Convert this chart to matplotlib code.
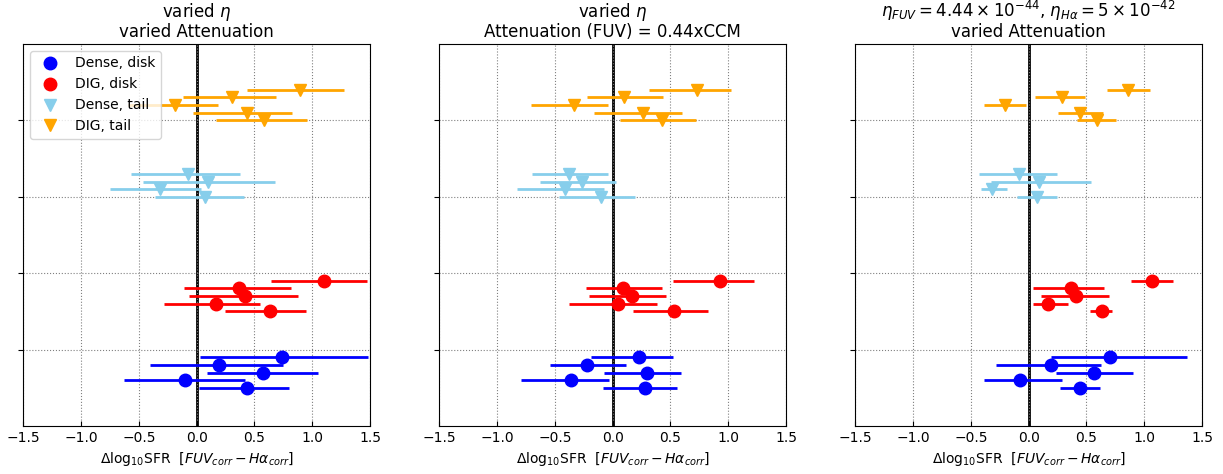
import numpy as np
import matplotlib.pyplot as plt

# row positions of each group
y_dense_disk = [0.9, 0.8, 0.7, 0.6, 0.5]
y_dig_disk = [1.9, 1.8, 1.7, 1.6, 1.5]
y_dense_tail = [3.3, 3.2, 3.1, 3.0]
y_dig_tail = [4.4, 4.3, 4.2, 4.1, 4.0]

titles = [
    "varied $\\eta$\nvaried Attenuation",
    "varied $\\eta$\nAttenuation (FUV) = 0.44xCCM",
    "$\\eta_{FUV} = 4.44 \\times 10^{-44}$, $\\eta_{H\\alpha} = 5 \\times 10^{-42}$\nvaried Attenuation",
]

# panel 1: value, lower end, upper end
p1_dense_disk = [0.735, 0.196, 0.577, -0.098, 0.436]
p1_dense_disk_lo = [0.029, -0.404, 0.087, -0.626, 0.020]
p1_dense_disk_hi = [1.483, 0.744, 1.047, 0.421, 0.799]
p1_dig_disk = [1.102, 0.369, 0.418, 0.167, 0.632]
p1_dig_disk_lo = [0.640, -0.107, -0.063, -0.280, 0.248]
p1_dig_disk_hi = [1.471, 0.813, 0.874, 0.545, 0.943]
p1_dense_tail = [-0.072, 0.101, -0.314, 0.069]
p1_dense_tail_lo = [-0.568, -0.461, -0.750, -0.361]
p1_dense_tail_hi = [0.375, 0.681, 0.035, 0.412]
p1_dig_tail = [0.897, 0.303, -0.185, 0.433, 0.580]
p1_dig_tail_lo = [0.433, -0.118, -0.591, -0.035, 0.167]
p1_dig_tail_hi = [1.272, 0.686, 0.185, 0.822, 0.955]

# panel 2
p2_dense_disk = [0.227, -0.222, 0.297, -0.363, 0.276]
p2_dense_disk_lo = [-0.187, -0.544, -0.075, -0.789, -0.086]
p2_dense_disk_hi = [0.521, 0.112, 0.590, -0.032, 0.561]
p2_dig_disk = [0.930, 0.089, 0.170, 0.049, 0.533]
p2_dig_disk_lo = [0.518, -0.230, -0.202, -0.377, 0.173]
p2_dig_disk_hi = [1.221, 0.423, 0.461, 0.383, 0.823]
p2_dense_tail = [-0.374, -0.262, -0.409, -0.098]
p2_dense_tail_lo = [-0.697, -0.631, -0.829, -0.461]
p2_dense_tail_hi = [-0.040, 0.029, -0.072, 0.193]
p2_dig_tail = [0.728, 0.101, -0.331, 0.262, 0.429]
p2_dig_tail_lo = [0.317, -0.219, -0.703, -0.161, 0.066]
p2_dig_tail_hi = [1.022, 0.435, -0.037, 0.599, 0.723]

# panel 3
p3_dense_disk = [0.707, 0.196, 0.562, -0.072, 0.444]
p3_dense_disk_lo = [0.190, -0.283, 0.234, -0.384, 0.268]
p3_dense_disk_hi = [1.373, 0.626, 0.900, 0.288, 0.620]
p3_dig_disk = [1.064, 0.363, 0.410, 0.167, 0.637]
p3_dig_disk_lo = [0.883, 0.037, 0.107, 0.037, 0.528]
p3_dig_disk_hi = [1.249, 0.652, 0.692, 0.337, 0.724]
p3_dense_tail = [-0.081, 0.092, -0.317, 0.069]
p3_dense_tail_lo = [-0.430, -0.329, -0.415, -0.104]
p3_dense_tail_hi = [0.242, 0.539, -0.187, 0.242]
p3_dig_tail = [0.860, 0.291, -0.202, 0.441, 0.588]
p3_dig_tail_lo = [0.681, 0.055, -0.384, 0.251, 0.421]
p3_dig_tail_hi = [1.050, 0.490, -0.023, 0.640, 0.753]

panels = [
    [(p1_dense_disk, p1_dense_disk_lo, p1_dense_disk_hi),
     (p1_dig_disk, p1_dig_disk_lo, p1_dig_disk_hi),
     (p1_dense_tail, p1_dense_tail_lo, p1_dense_tail_hi),
     (p1_dig_tail, p1_dig_tail_lo, p1_dig_tail_hi)],
    [(p2_dense_disk, p2_dense_disk_lo, p2_dense_disk_hi),
     (p2_dig_disk, p2_dig_disk_lo, p2_dig_disk_hi),
     (p2_dense_tail, p2_dense_tail_lo, p2_dense_tail_hi),
     (p2_dig_tail, p2_dig_tail_lo, p2_dig_tail_hi)],
    [(p3_dense_disk, p3_dense_disk_lo, p3_dense_disk_hi),
     (p3_dig_disk, p3_dig_disk_lo, p3_dig_disk_hi),
     (p3_dense_tail, p3_dense_tail_lo, p3_dense_tail_hi),
     (p3_dig_tail, p3_dig_tail_lo, p3_dig_tail_hi)],
]

ys = [y_dense_disk, y_dig_disk, y_dense_tail, y_dig_tail]
colors = ["blue", "red", "skyblue", "orange"]
markers = ["o", "o", "v", "v"]
labels = ["Dense, disk", "DIG, disk", "Dense, tail", "DIG, tail"]

fig = plt.figure(figsize=(12.23, 4.74), dpi=100)
lefts = [0.0190, 0.3592, 0.6993]

for i in range(3):
    ax = fig.add_axes([lefts[i], 0.1013, 0.2835, 0.8059])
    ax.axvline(0, color="black", lw=2, zorder=1)
    for j in range(4):
        x = np.array(panels[i][j][0])
        lo = x - np.array(panels[i][j][1])
        hi = np.array(panels[i][j][2]) - x
        ax.errorbar(x, ys[j], xerr=[lo, hi], fmt="none", ecolor=colors[j],
                    elinewidth=2, zorder=2)
        ax.plot(x, ys[j], linestyle="none", marker=markers[j], color=colors[j],
                markersize=9, label=labels[j], zorder=3)
    ax.set_xlim(-1.5, 1.5)
    ax.set_ylim(0, 5)
    ax.set_xticks([-1.5, -1.0, -0.5, 0.0, 0.5, 1.0, 1.5])
    ax.set_yticks([1, 2, 3, 4])
    ax.set_yticklabels([])
    ax.tick_params(axis="x", direction="in", labelsize=10)
    ax.grid(which="major", linestyle=":", color="gray")
    ax.set_title(titles[i], fontsize=12, linespacing=1.0, pad=5)
    ax.set_xlabel("$\\Delta$log$_{10}$SFR  [$FUV_{corr} - H\\alpha_{corr}$]", fontsize=10)
    if i == 0:
        ax.legend(loc="upper left", fontsize=10)

plt.savefig("out.png", dpi=100)
